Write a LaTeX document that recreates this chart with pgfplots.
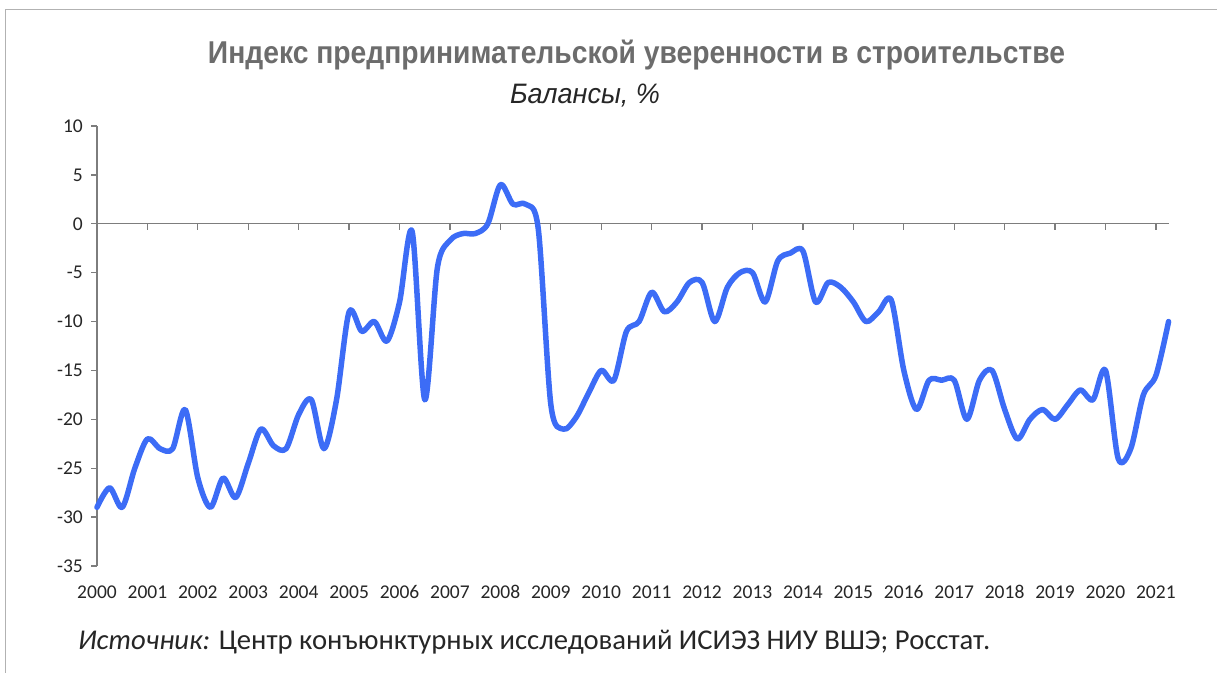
\documentclass[border=0pt]{standalone}
\usepackage{pgfplots}
\pgfplotsset{compat=1.18}
\usepackage{pgfplotstable}
\usepackage{fontspec}
\setmainfont{Carlito}
\newfontfamily\titlefont{Liberation Sans}
\definecolor{lineblue}{RGB}{60,108,246}
\definecolor{titlegray}{RGB}{108,108,108}
\definecolor{axgray}{RGB}{125,125,125}
\definecolor{txt}{RGB}{38,38,38}
\pgfplotstableread{
x y
2000.00 -29
2000.25 -27
2000.50 -29
2000.75 -25
2001.00 -22
2001.25 -23
2001.50 -23
2001.75 -19
2002.00 -26
2002.25 -29
2002.50 -26
2002.75 -28
2003.00 -24.5
2003.25 -21
2003.50 -22.7
2003.75 -23
2004.00 -19.5
2004.25 -18
2004.50 -23
2004.75 -18
2005.00 -9
2005.25 -11
2005.50 -10
2005.75 -12
2006.00 -8
2006.25 -0.8
2006.50 -18
2006.75 -4.5
2007.00 -1.7
2007.25 -1
2007.50 -1
2007.75 0
2008.00 4
2008.25 2
2008.50 2
2008.75 -0.5
2009.00 -18.5
2009.25 -21
2009.50 -19.8
2009.75 -17.3
2010.00 -15
2010.25 -16
2010.50 -11
2010.75 -10
2011.00 -7
2011.25 -9
2011.50 -8
2011.75 -6
2012.00 -6
2012.25 -10
2012.50 -6.5
2012.75 -5
2013.00 -5
2013.25 -8
2013.50 -3.8
2013.75 -3
2014.00 -2.8
2014.25 -8
2014.50 -6
2014.75 -6.5
2015.00 -8
2015.25 -10
2015.50 -9
2015.75 -7.8
2016.00 -15
2016.25 -19
2016.50 -16
2016.75 -16
2017.00 -16
2017.25 -20
2017.50 -16
2017.75 -15
2018.00 -19
2018.25 -22
2018.50 -20
2018.75 -19
2019.00 -20
2019.25 -18.5
2019.50 -17
2019.75 -18
2020.00 -15
2020.25 -24
2020.50 -23
2020.75 -17.5
2021.00 -15.5
2021.25 -10
}\idx
\begin{document}
\begin{tikzpicture}
\path[use as bounding box] (0,0) rectangle (1217pt,673pt);
\draw[black!30, line width=1pt] (1217pt,663pt) -- (5pt,663pt) -- (5pt,0pt);
\node[anchor=base, text=titlegray, inner sep=0pt] at (636.5pt,609pt)
  {\resizebox{857pt}{23.5pt}{\titlefont\bfseries Индекс предпринимательской уверенности в строительстве}};
\node[anchor=base, text=txt, inner sep=0pt] at (585pt,569pt)
  {\resizebox{150pt}{19.5pt}{\titlefont\itshape Балансы, \%}};
\node[anchor=base west, text=txt, inner sep=0pt] at (78pt,24pt)
  {\resizebox{912pt}{!}{\fontsize{27}{30}\selectfont\textit{Источник:} Центр конъюнктурных исследований ИСИЭЗ НИУ ВШЭ; Росстат.}};
\begin{axis}[
  at={(97pt,107pt)}, anchor=south west, scale only axis,
  width=1071.6pt, height=440pt,
  xmin=2000, xmax=2021.25, ymin=-35, ymax=10,
  axis y line=left, axis x line=middle,
  hide obscured x ticks=false, hide obscured y ticks=false,
  axis line style={-, draw=axgray, line width=1.3pt},
  xtick={2000,...,2021}, xticklabels={},
  ytick={-35,-30,...,10},
  yticklabels={-35,-30,-25,-20,-15,-10,-5,0,5,10},
  tick align=outside, major tick length=6pt,
  tick style={axgray, line width=1.3pt},
  yticklabel style={font=\fontsize{19.5}{20}\selectfont, text=txt, anchor=east, inner sep=0pt, xshift=-8pt},
  clip=false,
]
\addplot[lineblue, line width=5.5pt, smooth, tension=0.5, line join=round, line cap=round] table {\idx};
\end{axis}
\begin{axis}[
  at={(97pt,107pt)}, anchor=south west, scale only axis,
  width=1071.6pt, height=440pt,
  xmin=2000, xmax=2021.25, ymin=-35, ymax=10,
  hide y axis, axis x line=bottom,
  x axis line style={draw=none},
  xtick={2000,...,2021},
  xticklabels={2000,2001,2002,2003,2004,2005,2006,2007,2008,2009,2010,2011,2012,2013,2014,2015,2016,2017,2018,2019,2020,2021},
  major x tick style={draw=none},
  xticklabel style={font=\fontsize{19.5}{20}\selectfont, text=txt, anchor=base, inner sep=0pt, yshift=-30.5pt},
]
\end{axis}
\end{tikzpicture}
\end{document}
